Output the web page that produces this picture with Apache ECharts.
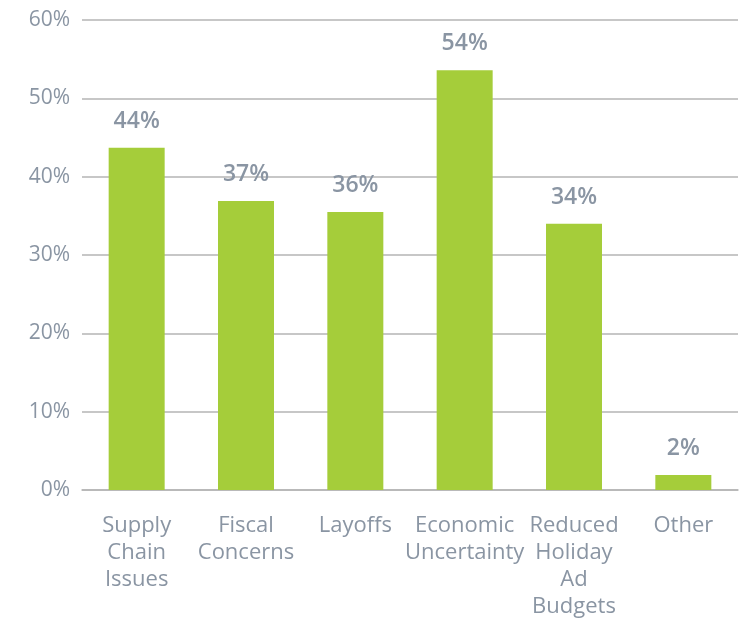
<!DOCTYPE html>
<html>
<head>
<meta charset="utf-8">
<script src="https://cdn.jsdelivr.net/npm/echarts@6/dist/echarts.min.js"></script>
<style>
html,body{margin:0;padding:0;background:#fff;}
#chart{width:748px;height:620px;}
</style>
</head>
<body>
<div id="chart"></div>
<script>
const categories = ["Supply\nChain\nIssues", "Fiscal\nConcerns", "Layoffs", "Economic\nUncertainty", "Reduced\nHoliday\nAd\nBudgets", "Other"];
const values = [43.7, 36.9, 35.5, 53.6, 34.0, 1.9];
const yTicks = [0, 10, 20, 30, 40, 50, 60];

const FONT = "'Open Sans', sans-serif";
const TEXT = '#8a95a3';
const chart = echarts.init(document.getElementById('chart'));
chart.setOption({
  animation: false,
  backgroundColor: '#ffffff',
  grid: {left: 82, right: 10, top: 20, bottom: 130, containLabel: false},
  xAxis: {
    type: 'category',
    data: categories,
    axisLine: {show: true, lineStyle: {color: '#b5b5b5', width: 1.5}},
    axisTick: {show: false},
    axisLabel: {
      interval: 0, color: TEXT, fontFamily: FONT, fontSize: 22, lineHeight: 27,
      margin: 22, align: 'center'
    }
  },
  yAxis: {
    type: 'value',
    min: yTicks[0], max: yTicks[yTicks.length - 1], interval: 10,
    axisLine: {show: false},
    axisTick: {show: false},
    splitLine: {lineStyle: {color: '#b5b5b5', width: 1.5}},
    axisLabel: {color: TEXT, fontFamily: FONT, fontSize: 21, margin: 12, formatter: v => v + '%'}
  },
  series: [{
    type: 'bar',
    data: values,
    barWidth: 56,
    itemStyle: {color: '#a5cd3a'},
    label: {
      show: true, position: 'top', distance: 15,
      color: TEXT, fontFamily: FONT, fontSize: 23, fontWeight: 600,
      formatter: p => Math.round(p.value) + '%'
    }
  }]
});
</script>
</body>
</html>
